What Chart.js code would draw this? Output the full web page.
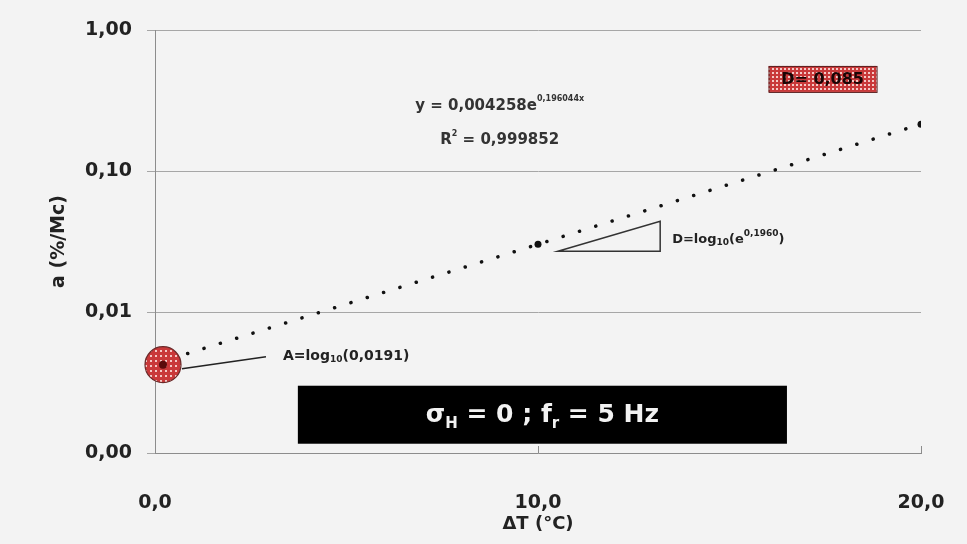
<!DOCTYPE html>
<html>
<head>
<meta charset="utf-8">
<script src="https://cdn.jsdelivr.net/npm/chart.js@4/dist/chart.umd.min.js"></script>
<style>
  html, body { margin: 0; padding: 0; background: #f3f3f3; }
  #wrap { width: 967px; height: 544px; }
</style>
</head>
<body>
<div id="wrap"><canvas id="chart" width="967" height="544"></canvas></div>
<script>
// data
const deltaT = [0, 10, 20];
const rate = [0.0043, 0.0302, 0.215];
const yTicks = [0.001, 0.01, 0.1, 1];
const yTickLabels = ['0,00', '0,01', '0,10', '1,00'];
const xTicks = [0, 10, 20];
const xTickLabels = ['0,0', '10,0', '20,0'];

const FONT = "'DejaVu Sans', sans-serif";

// red hatched fill, like the excel pattern
function redPattern(ctx, cell, dot) {
  const c = document.createElement('canvas');
  c.width = cell; c.height = cell;
  const p = c.getContext('2d');
  p.fillStyle = '#c9393a';
  p.fillRect(0, 0, cell, cell);
  p.fillStyle = '#f4c9c6';
  p.fillRect(0, 0, dot, dot);
  return ctx.createPattern(c, 'repeat');
}

// sub/superscript helper: parts = [[text, size, dy]]
function drawRich(ctx, parts, x, y, align, color) {
  let w = 0;
  parts.forEach(pt => { ctx.font = 'bold ' + pt[1] + 'px ' + FONT; w += ctx.measureText(pt[0]).width; });
  let cx = align === 'center' ? x - w / 2 : x;
  ctx.textAlign = 'left';
  ctx.textBaseline = 'middle';
  ctx.fillStyle = color;
  parts.forEach(pt => {
    ctx.font = 'bold ' + pt[1] + 'px ' + FONT;
    ctx.fillText(pt[0], cx, y + (pt[2] || 0));
    cx += ctx.measureText(pt[0]).width;
  });
}

const notes = {
  id: 'notes',
  beforeDatasetsDraw(chart) {
    const {ctx, scales: {x, y}} = chart;
    // inner x tick marks
    ctx.save();
    ctx.strokeStyle = '#8c8c8c';
    ctx.lineWidth = 1;
    xTicks.slice(1).forEach(v => {
      const px = Math.round(x.getPixelForValue(v)) + 0.5;
      ctx.beginPath();
      ctx.moveTo(px, y.bottom);
      ctx.lineTo(px, y.bottom - 7);
      ctx.stroke();
    });
    ctx.restore();
  },
  afterDatasetsDraw(chart) {
    const {ctx, scales: {x, y}} = chart;
    ctx.save();

    // highlighted intercept
    const cx0 = x.getPixelForValue(deltaT[0]) + 8;
    const cy0 = y.getPixelForValue(rate[0]) + 1;
    ctx.beginPath();
    ctx.arc(cx0, cy0, 18, 0, Math.PI * 2);
    ctx.fillStyle = redPattern(ctx, 5, 2);
    ctx.fill();
    ctx.strokeStyle = '#6b2a2a';
    ctx.lineWidth = 1.2;
    ctx.stroke();
    ctx.beginPath();
    ctx.arc(cx0, cy0, 4, 0, Math.PI * 2);
    ctx.fillStyle = '#5a0c0c';
    ctx.fill();

    // pointer to the intercept
    ctx.strokeStyle = '#222';
    ctx.lineWidth = 1.5;
    ctx.beginPath();
    ctx.moveTo(cx0 + 103, cy0 - 8);
    ctx.lineTo(cx0 + 19, cy0 + 4);
    ctx.stroke();
    drawRich(ctx, [['A=log', 14], ['10', 9, 3], ['(0,0191)', 14]], cx0 + 120, cy0 - 8, 'left', '#222');

    // slope triangle
    const ax = x.getPixelForValue(10.52), bx = x.getPixelForValue(13.19);
    const by = y.getPixelForValue(0.027), ty = y.getPixelForValue(0.044);
    ctx.strokeStyle = '#333';
    ctx.lineWidth = 1.5;
    ctx.beginPath();
    ctx.moveTo(ax, by);
    ctx.lineTo(bx, ty);
    ctx.lineTo(bx, by);
    ctx.closePath();
    ctx.stroke();
    drawRich(ctx, [['D=log', 13], ['10', 9, 3], ['(e', 13], ['0,1960', 9, -6], [')', 13]], bx + 12, (by + ty) / 2 + 3, 'left', '#222');

    // trend equation
    const ex = x.getPixelForValue(9.0);
    drawRich(ctx, [['y = 0,004258e', 15], ['0,196044x', 8, -7]], ex, y.getPixelForValue(0.29), 'center', '#333');
    drawRich(ctx, [['R', 15], ['2', 8, -6], [' = 0,999852', 15]], ex, y.getPixelForValue(0.165), 'center', '#333');

    // D box
    const dx = x.getPixelForValue(16.02), dy = y.getPixelForValue(0.556);
    ctx.fillStyle = redPattern(ctx, 4, 2);
    ctx.fillRect(dx, dy, 108, 26);
    ctx.strokeStyle = '#5a2020';
    ctx.lineWidth = 1;
    ctx.strokeRect(dx + 0.5, dy + 0.5, 108, 26);
    drawRich(ctx, [['D= 0,085', 16]], dx + 54, dy + 14, 'center', '#1a0505');

    // condition banner
    const bl = x.getPixelForValue(3.73), br = x.getPixelForValue(16.5);
    const bt = y.getPixelForValue(0.003);
    ctx.fillStyle = '#000';
    ctx.fillRect(bl, bt, br - bl, 58);
    drawRich(ctx, [['\u03c3', 25], ['H', 15, 8], [' = 0 ; f', 25], ['r', 15, 8], [' = 5 Hz', 25]], (bl + br) / 2, bt + 30, 'center', '#f2f2f2');

    ctx.restore();
  }
};

new Chart(document.getElementById('chart'), {
  type: 'line',
  data: {
    datasets: [{
      data: deltaT.map((t, i) => ({x: t, y: rate[i]})),
      borderColor: '#111',
      borderWidth: 3.5,
      borderDash: [0.1, 17],
      borderCapStyle: 'round',
      pointRadius: 3.5,
      pointBackgroundColor: '#111',
      pointBorderWidth: 0,
      tension: 0,
      fill: false
    }]
  },
  options: {
    responsive: false,
    animation: false,
    layout: { padding: { left: 0, right: 46, top: 30, bottom: 0 } },
    plugins: { legend: { display: false }, tooltip: { enabled: false } },
    scales: {
      x: {
        type: 'linear',
        min: 0,
        max: 20,
        afterFit: s => { s.height = 91; s.paddingLeft = 0; s.paddingRight = 0; },
        afterBuildTicks: s => { s.ticks = xTicks.map(v => ({value: v})); },
        grid: { display: false },
        border: { color: '#8c8c8c', width: 1 },
        ticks: {
          padding: 31,
          maxRotation: 0,
          color: '#222',
          font: { family: FONT, size: 19, weight: 'bold' },
          callback: v => xTickLabels[xTicks.indexOf(v)]
        },
        title: {
          display: true,
          text: '\u0394T (\u00b0C)',
          color: '#222',
          font: { family: FONT, size: 18, weight: 'bold' },
          padding: { top: 0, bottom: 9 }
        }
      },
      y: {
        type: 'logarithmic',
        min: 0.001,
        max: 1,
        afterFit: s => { s.width = 155; },
        afterBuildTicks: s => { s.ticks = yTicks.map(v => ({value: v})); },
        grid: { color: '#a6a6a6', lineWidth: 1, tickLength: 8, drawTicks: true },
        border: { color: '#8c8c8c', width: 1 },
        ticks: {
          padding: 15,
          color: '#222',
          font: { family: FONT, size: 19, weight: 'bold' },
          callback: v => yTickLabels[yTicks.indexOf(v)]
        },
        title: {
          display: true,
          text: 'a (%/Mc)',
          color: '#222',
          font: { family: FONT, size: 19, weight: 'bold' },
          padding: { top: 48, bottom: 0 }
        }
      }
    }
  },
  plugins: [notes]
});
</script>
</body>
</html>
